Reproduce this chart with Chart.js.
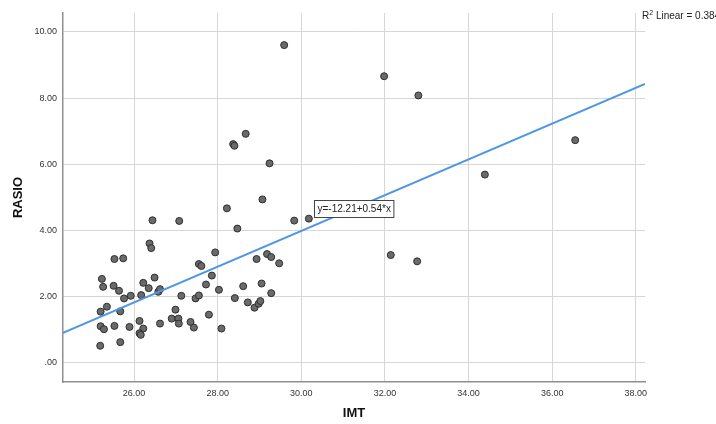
<!DOCTYPE html>
<html>
<head>
<meta charset="utf-8">
<script src="https://cdn.jsdelivr.net/npm/chart.js@4/dist/chart.umd.min.js"></script>
<style>
  html, body { margin: 0; padding: 0; background: #fff; }
  canvas { display: block; }
</style>
</head>
<body>
<canvas id="scatter" width="716" height="424"></canvas>
<script>
// IMT vs RASIO scatter with linear fit
const imt = [25.23, 25.26, 25.53, 25.74, 26.37, 26.41, 25.51, 25.64, 25.76, 25.92,
  25.20, 25.35, 25.67, 25.20, 25.28, 25.53, 25.89, 25.19, 25.67, 26.22,
  26.35, 26.49, 26.17, 26.58, 26.62, 27.13, 26.99, 26.90, 27.06, 27.07,
  27.35, 27.43, 26.13, 26.22, 26.13, 26.16, 26.62, 27.55, 27.61, 27.94,
  27.86, 27.72, 28.03, 27.47, 27.55, 27.79, 28.09, 28.41, 28.61, 28.72,
  28.88, 28.98, 29.02, 29.05, 29.28, 28.93, 29.18, 29.28, 29.47, 28.47,
  29.59, 28.67, 28.37, 28.40, 29.24, 29.07, 28.22, 29.83, 30.18, 31.98,
  32.80, 36.55, 34.39, 32.14, 32.77, 26.44, 27.08];
const rasio = [2.54, 2.30, 3.14, 3.16, 3.61, 3.47, 2.33, 2.18, 1.95, 2.03,
  1.55, 1.70, 1.56, 1.11, 1.02, 1.12, 1.09, 0.52, 0.63, 2.42,
  2.26, 2.58, 2.05, 2.15, 2.23, 2.03, 1.61, 1.34, 1.34, 1.19,
  1.24, 1.07, 1.27, 1.04, 0.90, 0.85, 1.19, 2.99, 2.93, 3.34,
  2.64, 2.37, 2.21, 1.95, 2.04, 1.46, 1.04, 1.96, 2.32, 1.83,
  1.67, 1.79, 1.87, 2.40, 2.11, 3.14, 3.29, 3.20, 3.01, 4.06,
  9.60, 6.92, 6.61, 6.56, 6.03, 4.94, 4.67, 4.30, 4.36, 8.66,
  8.08, 6.73, 5.69, 3.26, 3.07, 4.31, 4.29];

// fit line ends (y = -12.21 + 0.54x)
const fitX = [24.30, 38.22];
const fitY = [0.91, 8.43];

const xTicks = [26, 28, 30, 32, 34, 36, 38];
const xTickLabels = ['26.00', '28.00', '30.00', '32.00', '34.00', '36.00', '38.00'];
const yTicks = [0, 2, 4, 6, 8, 10];
const yTickLabels = ['.00', '2.00', '4.00', '6.00', '8.00', '10.00'];

const equationText = 'y=-12.21+0.54*x';
const r2Text = ' Linear = 0.384';

const FONT = '"Liberation Sans", Arial, sans-serif';

const annotations = {
  id: 'annotations',
  afterDatasetsDraw(chart) {
    const c = chart.ctx;
    const xs = chart.scales.x, ys = chart.scales.y;
    // equation box
    c.save();
    c.font = '10px ' + FONT;
    const w = c.measureText(equationText).width + 6;
    const bx = Math.round(xs.getPixelForValue(30.3)) + 0.5;
    const by = Math.round(ys.getPixelForValue(4.92)) + 0.5;
    c.fillStyle = '#fff';
    c.fillRect(bx, by, w, 17);
    c.strokeStyle = '#444';
    c.lineWidth = 1;
    c.strokeRect(bx, by, w, 17);
    c.fillStyle = '#222';
    c.textBaseline = 'middle';
    c.fillText(equationText, bx + 3, by + 9);
    c.restore();
  },
  afterDraw(chart) {
    const c = chart.ctx;
    c.save();
    c.fillStyle = '#222';
    c.textBaseline = 'alphabetic';
    let x = chart.chartArea.right - 3;
    const y = 19;
    c.font = '10px ' + FONT;
    c.fillText('R', x, y);
    x += c.measureText('R').width;
    c.font = '7px ' + FONT;
    c.fillText('2', x, y - 4);
    x += c.measureText('2').width;
    c.font = '10px ' + FONT;
    c.fillText(r2Text, x, y);
    c.restore();
  }
};

new Chart(document.getElementById('scatter').getContext('2d'), {
  type: 'scatter',
  data: {
    datasets: [{
      type: 'line',
      data: fitX.map((v, i) => ({ x: v, y: fitY[i] })),
      borderColor: '#5096e6',
      borderWidth: 2,
      pointRadius: 0,
      fill: false
    }, {
      data: imt.map((v, i) => ({ x: v, y: rasio[i] })),
      backgroundColor: '#6a6a6a',
      borderColor: '#2e2e2e',
      borderWidth: 1,
      pointRadius: 3.5
    }]
  },
  plugins: [annotations],
  options: {
    responsive: false,
    animation: false,
    layout: { padding: { top: 13, right: 71, left: 0, bottom: 0 } },
    plugins: { legend: { display: false }, tooltip: { enabled: false } },
    scales: {
      x: {
        type: 'linear',
        min: 24.30,
        max: 38.22,
        afterBuildTicks: s => { s.ticks = xTicks.map(v => ({ value: v })); },
        afterFit: s => { s.height = 42; },
        ticks: {
          padding: 6,
          maxRotation: 0,
          autoSkip: false,
          color: '#333',
          font: { family: FONT, size: 9 },
          callback: (v, i) => xTickLabels[i]
        },
        grid: { color: '#d6d6d6', lineWidth: 1, drawTicks: false },
        border: { display: true, color: '#8f8f8f', width: 1.5 },
        title: {
          display: true,
          text: 'IMT',
          color: '#111',
          font: { family: FONT, size: 13, weight: 'bold' },
          padding: { top: 0, bottom: 3 }
        }
      },
      y: {
        type: 'linear',
        min: -0.574,
        max: 10.57,
        afterBuildTicks: s => { s.ticks = yTicks.map(v => ({ value: v })); },
        afterFit: s => { s.width = 63; },
        ticks: {
          padding: 6,
          autoSkip: false,
          color: '#333',
          font: { family: FONT, size: 9 },
          callback: (v, i) => yTickLabels[i]
        },
        grid: { color: '#d6d6d6', lineWidth: 1, drawTicks: false },
        border: { display: true, color: '#8f8f8f', width: 1.5 },
        title: {
          display: true,
          text: 'RASIO',
          color: '#111',
          font: { family: FONT, size: 13, weight: 'bold' },
          padding: { top: 11, bottom: 0 }
        }
      }
    }
  }
});
</script>
</body>
</html>
